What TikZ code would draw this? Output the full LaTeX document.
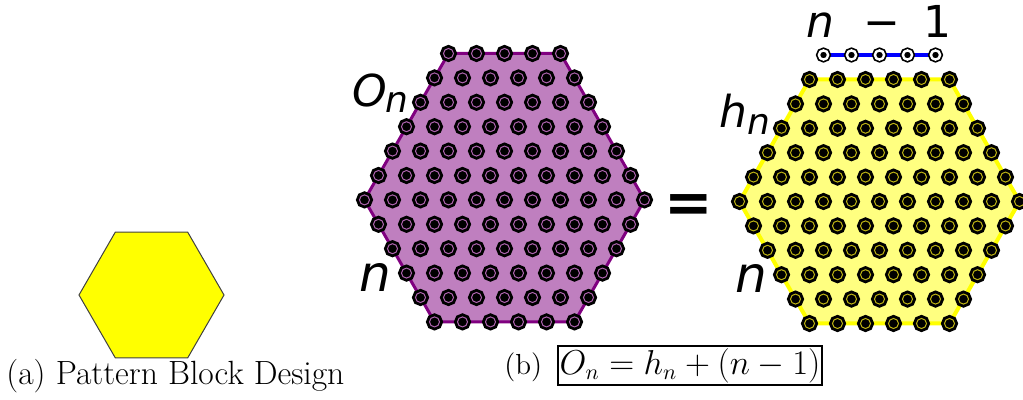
\documentclass[tikz,border=0pt]{standalone}
\usepackage{fontspec}
\newfontfamily\lblfont{DejaVu Sans}
\usetikzlibrary{positioning, backgrounds, calc}

\definecolor{ofill}{RGB}{191,127,191}
\definecolor{oline}{RGB}{128,0,128}
\definecolor{oring}{RGB}{175,100,175}
\definecolor{hfill}{RGB}{255,255,128}
\definecolor{hline}{RGB}{255,255,0}
\definecolor{hring}{RGB}{190,180,20}
\definecolor{blockyellow}{RGB}{255,255,0}

\begin{document}
\begin{tikzpicture}[
    x=0.5pt, y=-0.5pt,
    % Pegs on the two boards
    peg/.style={circle, inner sep=0pt, minimum size=5pt, fill=black, draw=#1, line width=0.5pt, preaction={draw=black, line width=3.4pt}},
    extra_peg/.style={circle, inner sep=0pt, minimum size=4.6pt, fill=black, draw=white, line width=1.2pt, preaction={draw=black, line width=2.9pt}},
    % Boards and links
    oboard/.style={fill=ofill, draw=oline, line width=1.5pt, line join=round},
    hboard/.style={fill=hfill, draw=hline, line width=2pt, line join=round},
    block/.style={fill=blockyellow, draw=black!75, line width=0.5pt},
    link/.style={draw=blue, line width=2pt},
    % Texts
    lbl/.style={inner sep=0pt, font=\lblfont\itshape},
    caption/.style={inner sep=0pt, font=\fontsize{16.8}{19}\selectfont},
    formula_box/.style={draw=black, line width=1pt, inner sep=1pt, minimum width=130pt, minimum height=17.5pt, font=\fontsize{16}{18}\selectfont}
]
    \useasboundingbox (0,0) rectangle (1023,400);

    % =========================================================================
    % (a) PATTERN BLOCK
    % =========================================================================
    \coordinate (blockc) at (151.5,295);
    \draw[block] ($(blockc)+(0:72.5)$) \foreach \a in {60,120,...,300} { -- ($(blockc)+(\a:72.5)$) } -- cycle;
    \node[caption, anchor=base west] (capa) at (6,385) {(a) Pattern Block Design};

    % =========================================================================
    % (b) BOARD O_n
    % =========================================================================
    \foreach \cnt [count=\j from 0] in {5,6,7,8,9,10,11,10,9,8,7,6} {
        \foreach \i in {1,...,\cnt} {
            \node[peg=oring] (o-\j-\i) at ({504.5+(\i-(\cnt+1)/2)*28}, {53.5+\j*24.4}) {};
        }
    }
    \begin{scope}[on background layer]
        \draw[oboard] (o-0-1.center) -- (o-0-5.center) -- (o-6-11.center) -- (o-11-6.center) -- (o-11-1.center) -- (o-6-1.center) -- cycle;
    \end{scope}
    \node[lbl, anchor=base west] (olbl) at (352,107) {\fontsize{22}{22}\selectfont O\kern-1pt\raisebox{-3pt}{\fontsize{18}{18}\selectfont n}};
    \node[lbl, anchor=base west] (oside) at (359,292) {\fontsize{25}{26}\selectfont n};

    % equals sign
    \node[inner sep=0pt, font=\lblfont\bfseries\fontsize{29}{30}\selectfont, anchor=base] (eq) at (688.5,223) {=};

    % =========================================================================
    % (b) BOARD h_n AND THE EXTRA ROW
    % =========================================================================
    \foreach \cnt [count=\j from 0] in {6,7,8,9,10,11,10,9,8,7,6} {
        \foreach \i in {1,...,\cnt} {
            \node[peg=hring] (h-\j-\i) at ({879.5+(\i-(\cnt+1)/2)*28}, {79.5+\j*24.4}) {};
        }
    }
    \foreach \i in {1,...,5} {
        \node[extra_peg] (e-\i) at ({879.5+(\i-3)*28}, 55) {};
    }
    \begin{scope}[on background layer]
        \draw[hboard] (h-0-1.center) -- (h-0-6.center) -- (h-5-11.center) -- (h-10-6.center) -- (h-10-1.center) -- (h-5-1.center) -- cycle;
        \foreach \i [count=\k from 2] in {1,...,4} {
            \draw[link] (e-\i.center) -- (e-\k.center);
        }
    \end{scope}
    \node[lbl, anchor=base west] (hlbl) at (719,128) {\fontsize{22}{22}\selectfont h\raisebox{-3.5pt}{\fontsize{18}{18}\selectfont n}};
    \node[lbl, anchor=base west] (hside) at (735,293) {\fontsize{25}{26}\selectfont n};
    \node[lbl, anchor=base west] (toplbl) at (806,38) {\fontsize{22}{23}\selectfont n\hspace{14.5pt}\upshape −\hspace{11.5pt}1};

    % =========================================================================
    % (b) CAPTION
    % =========================================================================
    \node[formula_box] (form) at (690,365.5) {$O_n = h_n + (n-1)$};
    \node[caption, font=\fontsize{14.5}{17}\selectfont, base left=7pt of form] (capb) {(b)};

\end{tikzpicture}
\end{document}
